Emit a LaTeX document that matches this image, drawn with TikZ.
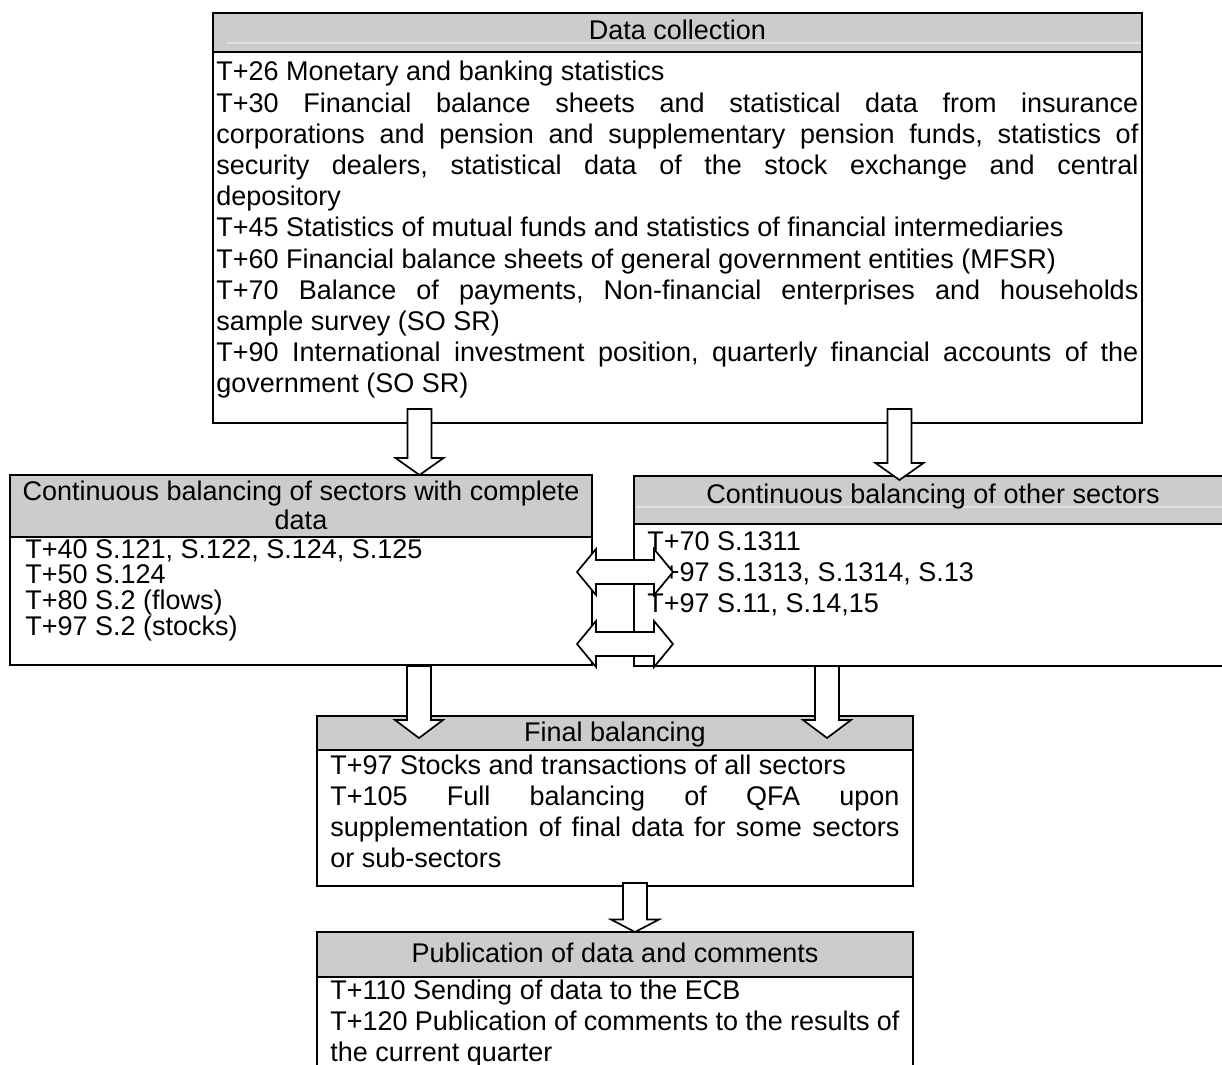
\documentclass[tikz,border=0pt]{standalone}
\usepackage{fontspec}
\setmainfont{Liberation Sans}
\usetikzlibrary{fit,calc}
\definecolor{hdrgray}{RGB}{204,204,204}
\definecolor{faintline}{RGB}{224,224,224}
\newcommand{\fs}{\fontsize{13.5pt}{15.6pt}\selectfont\frenchspacing}
\newcommand{\fstight}{\fontsize{13.5pt}{12.85pt}\selectfont\frenchspacing}
\newcommand{\J}[1]{\makebox[\linewidth][s]{#1}\par}
% vertical block arrow: start coord, tip coord, head length
\newcommand{\vblock}[3]{%
  \draw[blockarrow] ($(#1)+(-12,0)$) -- ($(#1)+(12,0)$) -- ($(#2)+(12,-#3)$)
    -- ($(#2)+(24,-#3)$) -- (#2) -- ($(#2)+(-24,-#3)$) -- ($(#2)+(-12,-#3)$) -- cycle;}
% horizontal double block arrow: left tip, right tip
\newcommand{\hblock}[2]{%
  \draw[blockarrow] (#1) -- ($(#1)+(19,-23)$) -- ($(#1)+(19,-12)$) -- ($(#2)+(-19,-12)$)
    -- ($(#2)+(-19,-23)$) -- (#2) -- ($(#2)+(-19,23)$) -- ($(#2)+(-19,12)$)
    -- ($(#1)+(19,12)$) -- ($(#1)+(19,23)$) -- cycle;}
\begin{document}
\begin{tikzpicture}[x=0.5pt,y=-0.5pt,
  boxnode/.style={draw=black, line width=1.15pt, inner sep=0pt},
  hdrnode/.style={draw=black, fill=hdrgray, line width=1.15pt, inner sep=0pt},
  blockarrow/.style={draw=black, fill=white, line width=0.85pt, line join=miter},
  txt/.style={inner sep=0pt, anchor=base west, font=\fs},
  ctxt/.style={inner sep=0pt, anchor=base, font=\fs},
]
\useasboundingbox (0,0) rectangle (1222,1065);
\clip (0,0) rectangle (1222,1065);

% ---------- Data collection ----------
\node[hdrnode, fit={(213,13) (1142,52)}] (collecthead) {};
\draw[faintline, line width=0.6pt] (227,43) -- (1141,43);
\node[boxnode, fit={(213,13) (1142,423)}] (collect) {};
\node[ctxt] (collecttitle) at (677.5,40) {Data collection};
\node[txt] (collecttext) at (216,81) {\parbox[t]{461pt}{%
T+26 Monetary and banking statistics\par
\J{T+30 Financial balance sheets and statistical data from insurance}
\J{corporations and pension and supplementary pension funds, statistics of}
\J{security dealers, statistical data of the stock exchange and central}
depository\par
T+45 Statistics of mutual funds and statistics of financial intermediaries\par
T+60 Financial balance sheets of general government entities (MFSR)\par
\J{T+70 Balance of payments, Non-financial enterprises and households}
sample survey (SO SR)\par
\J{T+90 International investment position, quarterly financial accounts of the}
government (SO SR)\par}};

% ---------- Left box ----------
\node[hdrnode, fit={(10,475) (592,537)}] (lefthead) {};
\node[boxnode, fit={(10,475) (592,665)}] (left) {};
\node[ctxt] (lefttitle) at (301,500) {\parbox[t]{291pt}{\fontsize{13.5pt}{14.5pt}\selectfont\centering
Continuous balancing of sectors with complete\par data\par}};
\node[txt, font=\fstight] (lefttext) at (25,558) {\parbox[t]{280pt}{%
T+40 S.121, S.122, S.124, S.125\par
T+50 S.124\par
T+80 S.2 (flows)\par
T+97 S.2 (stocks)\par}};

% ---------- Right box ----------
\node[hdrnode, fit={(634,476) (1232,524)}] (righthead) {};
\draw[faintline, line width=0.6pt] (636,507) -- (1222,507);
\node[boxnode, fit={(634,476) (1232,666)}] (right) {};
\node[ctxt] (righttitle) at (933,503) {Continuous balancing of other sectors};
\node[txt] (righttext) at (647,550) {\parbox[t]{280pt}{%
T+70 S.1311\par
T+97 S.1313, S.1314, S.13\par
T+97 S.11, S.14,15\par}};

% ---------- Final balancing ----------
\node[hdrnode, fit={(317,716) (913,750)}] (finalhead) {};
\node[boxnode, fit={(317,716) (913,886)}] (final) {};
\node[ctxt] (finaltitle) at (615,741) {Final balancing};
\node[txt] (finaltext) at (330,774) {\parbox[t]{284.5pt}{%
T+97 Stocks and transactions of all sectors\par
\J{T+105 Full balancing of QFA upon}
\J{supplementation of final data for some sectors}
or sub-sectors\par}};

% ---------- Publication ----------
\node[hdrnode, fit={(317,932) (913,977)}] (pubhead) {};
\node[boxnode, fit={(317,932) (913,1110)}] (pub) {};
\node[ctxt] (pubtitle) at (615,962) {Publication of data and comments};
\node[txt] (pubtext) at (330,999) {\parbox[t]{284.5pt}{%
T+110 Sending of data to the ECB\par
\J{T+120 Publication of comments to the results of}
the current quarter\par}};

% ---------- Arrows ----------
\coordinate (a1s) at (419.5,409); \coordinate (a1t) at (419.5,475);
\coordinate (a2s) at (899.5,409); \coordinate (a2t) at (899.5,480);
\coordinate (a3s) at (419,666);   \coordinate (a3t) at (419,738);
\coordinate (a4s) at (827,666);   \coordinate (a4t) at (827,738);
\coordinate (a5s) at (635,883);   \coordinate (a5t) at (635,932);
\coordinate (d1l) at (577,572);   \coordinate (d1r) at (673,572);
\coordinate (d2l) at (577,644);   \coordinate (d2r) at (673,644);
\vblock{a1s}{a1t}{17}
\vblock{a2s}{a2t}{17}
\vblock{a3s}{a3t}{18}
\vblock{a4s}{a4t}{18}
\vblock{a5s}{a5t}{12.5}
\hblock{d1l}{d1r}
\hblock{d2l}{d2r}
\end{tikzpicture}
\end{document}
